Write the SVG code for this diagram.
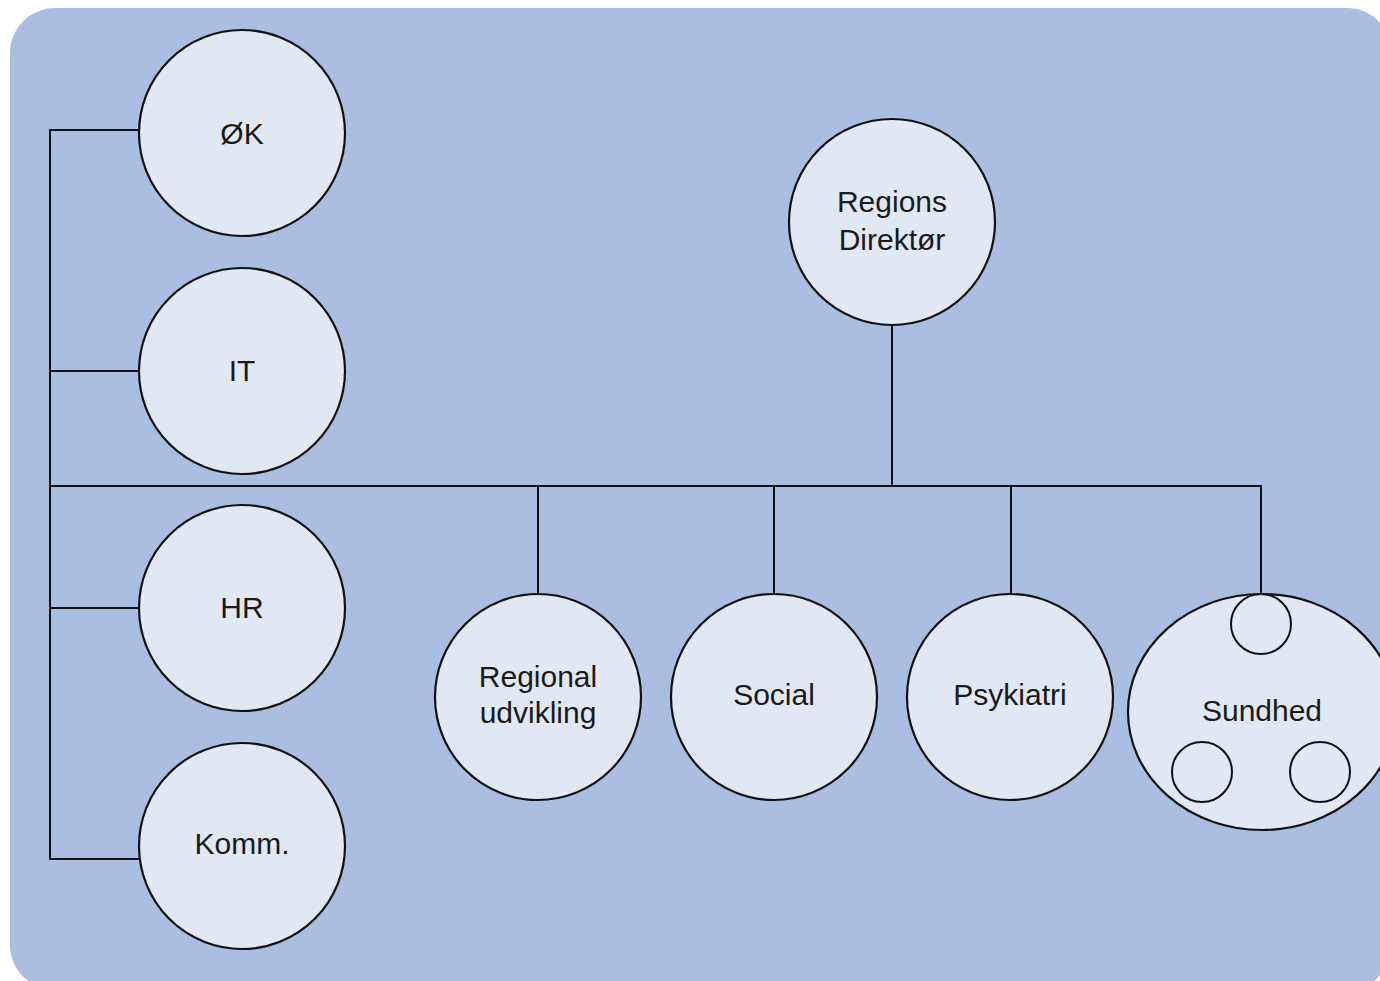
<svg xmlns="http://www.w3.org/2000/svg" width="1380" height="981" viewBox="0 0 1380 981">
<style>
.bg{fill:#A9BEE1;}
.node{fill:#E1E7F3;stroke:#111;stroke-width:2.2;}
.sub{fill:none;stroke:#111;stroke-width:2;}
.lbl{font-family:"Liberation Sans",Arial,sans-serif;font-size:30px;fill:#1a1a1a;text-anchor:middle;}
.conn line{stroke:#111;stroke-width:2;}
</style>
<rect class="bg" x="10" y="8" width="1382" height="982" rx="45" ry="45"/>
<g id="connectors" class="conn">
<line x1="50" y1="130" x2="50" y2="859"/>
<line x1="49" y1="130" x2="140" y2="130"/>
<line x1="49" y1="371" x2="140" y2="371"/>
<line x1="49" y1="608" x2="140" y2="608"/>
<line x1="49" y1="859" x2="142" y2="859"/>
<line x1="49" y1="486" x2="1262" y2="486"/>
<line x1="892" y1="326" x2="892" y2="486"/>
<line x1="538" y1="486" x2="538" y2="594"/>
<line x1="774" y1="486" x2="774" y2="594"/>
<line x1="1011" y1="486" x2="1011" y2="594"/>
<line x1="1261" y1="486" x2="1261" y2="594"/>
</g>
<g id="node-ok"><circle class="node" cx="242" cy="133" r="103"/><text class="lbl" x="242" y="144">ØK</text></g>
<g id="node-it"><circle class="node" cx="242" cy="371" r="103"/><text class="lbl" x="242" y="381">IT</text></g>
<g id="node-hr"><circle class="node" cx="242" cy="608" r="103"/><text class="lbl" x="242" y="618">HR</text></g>
<g id="node-komm"><circle class="node" cx="242" cy="846" r="103"/><text class="lbl" x="242" y="854">Komm.</text></g>
<g id="node-direktor"><circle class="node" cx="892" cy="222" r="103"/><text class="lbl" x="892" y="212">Regions</text><text class="lbl" x="892" y="250">Direktør</text></g>
<g id="node-regional"><circle class="node" cx="538" cy="697" r="103"/><text class="lbl" x="538" y="687">Regional</text><text class="lbl" x="538" y="723">udvikling</text></g>
<g id="node-social"><circle class="node" cx="774" cy="697" r="103"/><text class="lbl" x="774" y="705">Social</text></g>
<g id="node-psykiatri"><circle class="node" cx="1010" cy="697" r="103"/><text class="lbl" x="1010" y="705">Psykiatri</text></g>
<g id="node-sundhed"><ellipse class="node" cx="1262" cy="712" rx="134" ry="118"/>
<circle class="sub" cx="1261" cy="624" r="30"/>
<circle class="sub" cx="1202" cy="772" r="30"/>
<circle class="sub" cx="1320" cy="772" r="30"/>
<text class="lbl" x="1262" y="721">Sundhed</text></g>
</svg>
